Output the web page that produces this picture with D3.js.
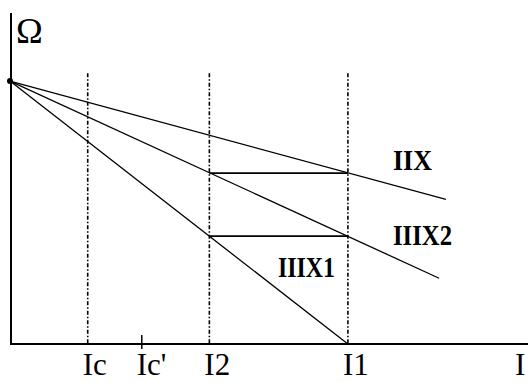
<!DOCTYPE html>
<html>
<head>
<meta charset="utf-8">
<script src="https://cdn.jsdelivr.net/npm/d3@7"></script>
<style>
  html, body { margin: 0; padding: 0; background: #fff; }
  svg { display: block; }
  text { font-family: "Liberation Serif", "DejaVu Serif", serif; fill: #000; }
</style>
</head>
<body>
<svg id="chart" width="528" height="382"></svg>
<script>
// Characteristic lines: speed (Ω) falling with current (I), all from the no-load point
const seriesNames = ["IIX", "IIIX2", "IIIX1"];
const seriesPoints = [
  [[0, 100], [129, 55]],
  [[0, 100], [127, 25]],
  [[0, 100], [100, 0]]
];
// Horizontal transfer segments between the curves
const stepSegments = [
  [[59, 65], [100, 65]],
  [[59, 41], [100, 41]]
];
// Current marks on the I axis
const tickLabels = ["Ic", "Ic'", "I2", "I1"];
const tickValues = [23, 39, 59, 100];
const dashedTicks = ["Ic", "I2", "I1"];
const dashedTop = 103;
const startPoint = [0, 100];

const svg = d3.select("#chart");
const x = d3.scaleLinear().domain([0, 153.3]).range([10, 528]);
const y = d3.scaleLinear().domain([0, 125.9]).range([344, 13]);

const line = d3.line().x(d => x(d[0])).y(d => y(d[1]));

// dash-dot guide lines at the marked currents
tickLabels.forEach((lab, i) => {
  if (!dashedTicks.includes(lab)) return;
  svg.append("line")
    .attr("x1", x(tickValues[i])).attr("x2", x(tickValues[i]))
    .attr("y1", y(dashedTop)).attr("y2", y(0))
    .attr("stroke", "#000").attr("stroke-width", 1.6)
    .attr("stroke-dasharray", "4,2,1.5,2");
});

// axes
svg.append("line").attr("x1", 11).attr("x2", 11).attr("y1", 13).attr("y2", 345)
  .attr("stroke", "#000").attr("stroke-width", 2);
svg.append("line").attr("x1", 10).attr("x2", 528).attr("y1", y(0)).attr("y2", y(0))
  .attr("stroke", "#000").attr("stroke-width", 2);

// small tick for Ic'
const icp = tickValues[tickLabels.indexOf("Ic'")];
svg.append("line").attr("x1", x(icp)).attr("x2", x(icp))
  .attr("y1", y(0) - 9).attr("y2", y(0) + 5)
  .attr("stroke", "#000").attr("stroke-width", 1.5);

// characteristic lines
seriesPoints.forEach(pts => {
  svg.append("path").attr("d", line(pts))
    .attr("fill", "none").attr("stroke", "#000").attr("stroke-width", 1.3);
});
stepSegments.forEach(pts => {
  svg.append("path").attr("d", line(pts))
    .attr("fill", "none").attr("stroke", "#000").attr("stroke-width", 1.8);
});

svg.append("circle").attr("cx", x(startPoint[0])).attr("cy", y(startPoint[1]))
  .attr("r", 3).attr("fill", "#000");

// curve labels
const labelPos = [[393, 170, 39], [393, 245, 59], [278, 277, 57]];
seriesNames.forEach((n, i) => {
  svg.append("text").text(n)
    .attr("x", labelPos[i][0]).attr("y", labelPos[i][1])
    .attr("font-size", 29).attr("font-weight", "bold")
    .attr("textLength", labelPos[i][2]).attr("lengthAdjust", "spacingAndGlyphs");
});

// axis labels
tickLabels.forEach((lab, i) => {
  svg.append("text").text(lab)
    .attr("x", x(tickValues[i]) - 5).attr("y", 375)
    .attr("font-size", 31);
});
svg.append("text").text("I").attr("x", 515).attr("y", 375).attr("font-size", 31);
svg.append("text").text("Ω").attr("x", 16).attr("y", 43).attr("font-size", 36);
</script>
</body>
</html>
